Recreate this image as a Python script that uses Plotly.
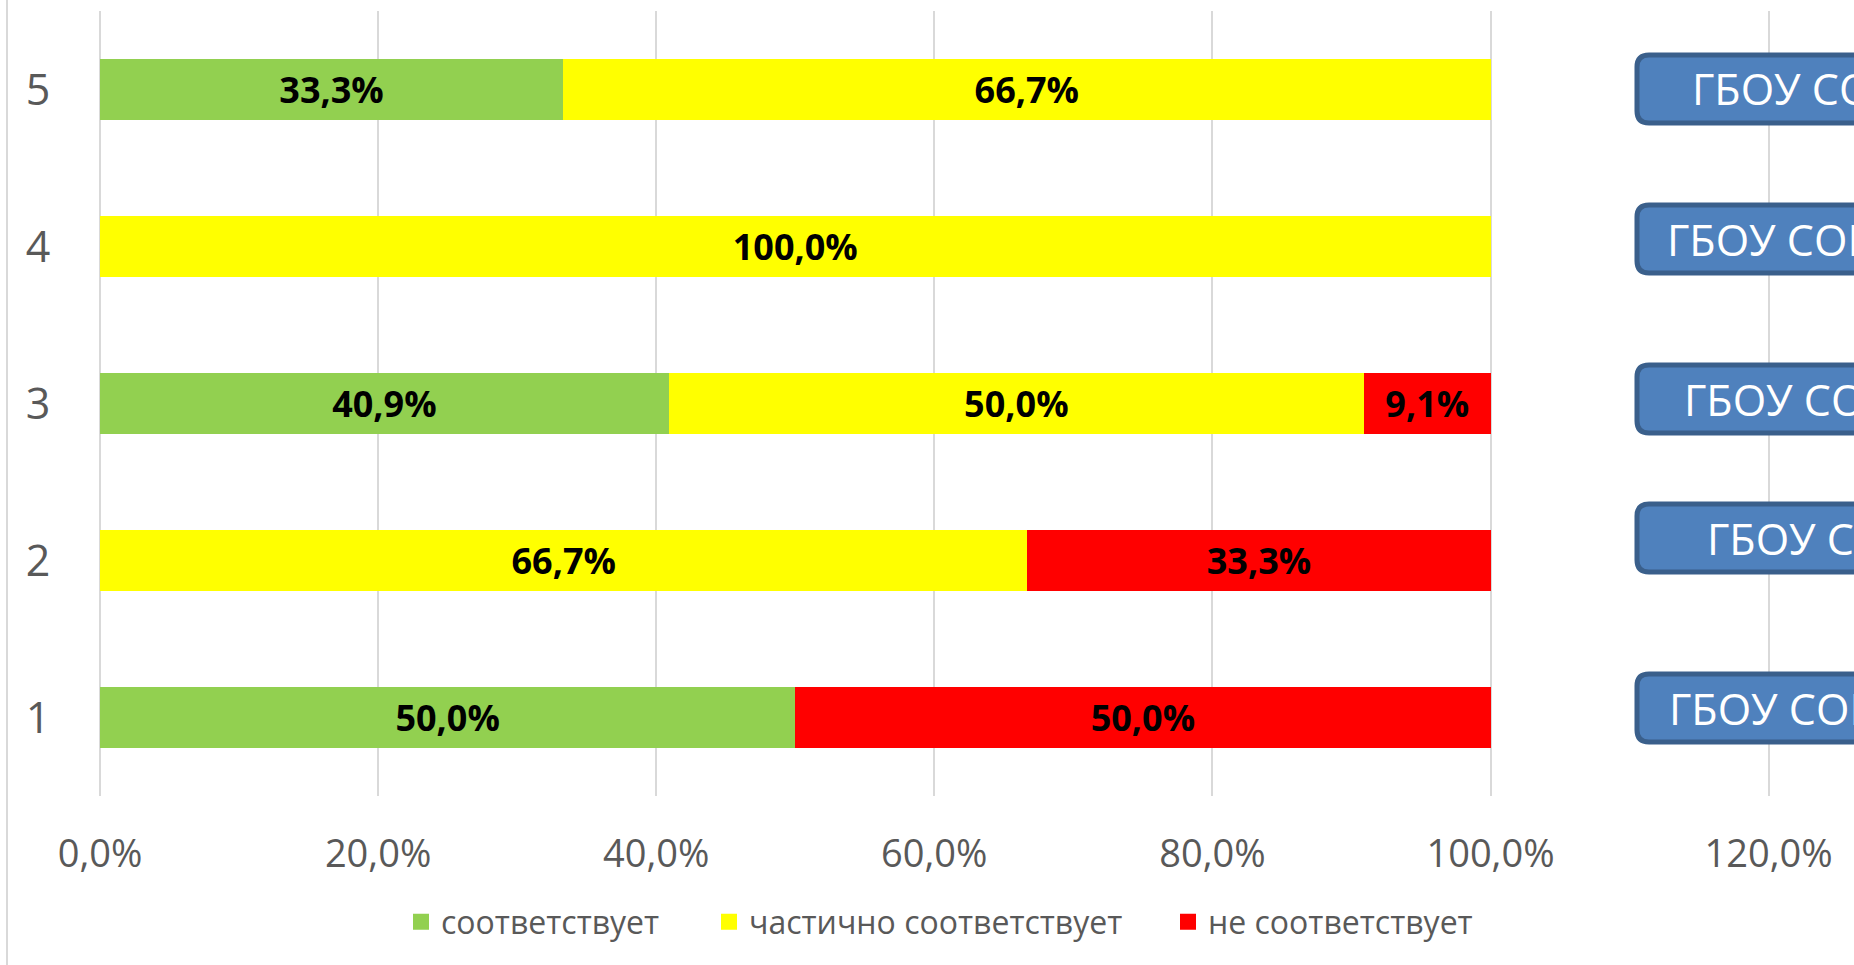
import plotly.graph_objects as go

# data (percent of respondents per group)
categories = ["1", "2", "3", "4", "5"]
matches = [50.0, 0.0, 40.9, 0.0, 33.3]
partial = [0.0, 66.7, 50.0, 100.0, 66.7]
no_match = [50.0, 33.3, 9.1, 0.0, 0.0]
series_names = ["соответствует", "частично соответствует", "не соответствует"]
x_ticks = [0, 20, 40, 60, 80, 100, 120]
school_labels = ["ГБОУ СОШ", "ГБОУ СОШ", "ГБОУ СОШ", "ГБОУ СОШ", "ГБОУ СОШ"]  # boxes top to bottom

colors = ["#92D050", "#FFFF00", "#FF0000"]

W, H = 1854, 965
L, T, B = 100, 11, 169


def px_x(p):
    return (p - L) / (W - L)


def px_y(p):
    return (H - B - p) / (H - T - B)


def label(v):
    return f"{v:.1f}%".replace(".", ",") if v else ""


fig = go.Figure()
legends = ["legend", "legend2", "legend3"]
for vals, name, col, lg in zip([matches, partial, no_match], series_names, colors, legends):
    fig.add_trace(go.Bar(
        y=categories,
        x=vals,
        orientation="h",
        name=name,
        marker=dict(color=col, line=dict(width=0)),
        text=[label(v) for v in vals],
        textposition="inside",
        insidetextanchor="middle",
        constraintext="none",
        textfont=dict(family="Open Sans", size=36, color="black", weight="bold"),
        showlegend=False,
        hoverinfo="skip",
    ))
    # legend entry with a bigger square swatch
    fig.add_trace(go.Scatter(
        x=[None], y=[None], mode="markers", name=name, legend=lg,
        marker=dict(symbol="square", size=21, color=col),
        hoverinfo="skip",
    ))

# right-hand labelled boxes (shape overlay from the original slide)
box_rows = [(55, 123), (205, 273), (365, 433), (504, 572), (674, 742)]
text_left = [1690, 1665, 1682, 1705, 1667]
shapes = []
annotations = []
r = 12
for (top, bot), tx, txt in zip(box_rows, text_left, school_labels):
    x0, x1 = 1637, 1920
    pts = [
        ("M", x0 + r, top), ("L", x1 - r, top), ("Q", x1, top, x1, top + r),
        ("L", x1, bot - r), ("Q", x1, bot, x1 - r, bot), ("L", x0 + r, bot),
        ("Q", x0, bot, x0, bot - r), ("L", x0, top + r), ("Q", x0, top, x0 + r, top),
    ]
    path = ""
    for p in pts:
        cmd = p[0]
        coords = p[1:]
        s = " ".join(f"{px_x(coords[i]):.5f},{px_y(coords[i + 1]):.5f}" for i in range(0, len(coords), 2))
        path += f"{cmd}{s} "
    path += "Z"
    shapes.append(dict(type="path", path=path, xref="paper", yref="paper",
                       fillcolor="#4F81BD", line=dict(color="#3A5F8B", width=5), layer="above"))
    annotations.append(dict(text=txt, xref="paper", yref="paper", x=px_x(tx), y=px_y((top + bot) / 2),
                            xanchor="left", yanchor="middle", showarrow=False,
                            font=dict(family="Open Sans", size=43, color="white")))

# chart border on the left
shapes.append(dict(type="line", xref="paper", yref="paper", x0=px_x(7), x1=px_x(7),
                   y0=px_y(0), y1=px_y(H), line=dict(color="#D9D9D9", width=2), layer="below"))

legend_style = dict(orientation="h", yanchor="middle", y=px_y(922), xanchor="left",
                    font=dict(family="Open Sans", size=32, color="#595959"),
                    bgcolor="rgba(0,0,0,0)")

fig.update_layout(
    barmode="stack",
    bargap=0.61,
    width=W,
    height=H,
    margin=dict(l=L, r=0, t=T, b=B),
    plot_bgcolor="white",
    paper_bgcolor="white",
    separators=", ",
    showlegend=True,
    legend=dict(legend_style, x=px_x(401)),
    legend2=dict(legend_style, x=px_x(709)),
    legend3=dict(legend_style, x=px_x(1168)),
    shapes=shapes,
    annotations=annotations,
    xaxis=dict(
        range=[0, (W - L) / 13.905],
        tickvals=x_ticks,
        ticktext=[f"{v:.1f}%".replace(".", ",") for v in x_ticks],
        showgrid=True,
        gridcolor="#D9D9D9",
        gridwidth=2,
        zeroline=True,
        zerolinecolor="#D9D9D9",
        zerolinewidth=2,
        ticks="outside",
        ticklen=24,
        tickcolor="rgba(0,0,0,0)",
        tickfont=dict(family="Open Sans", size=38, color="#595959"),
        showline=False,
    ),
    yaxis=dict(
        type="category",
        categoryorder="array",
        categoryarray=categories,
        showgrid=False,
        ticks="outside",
        ticklen=40,
        tickcolor="rgba(0,0,0,0)",
        tickfont=dict(family="Open Sans", size=43, color="#595959"),
        showline=False,
    ),
)

fig.write_html("out.html", config={"displayModeBar": False},
               post_script="document.body.style.margin='0px';")
